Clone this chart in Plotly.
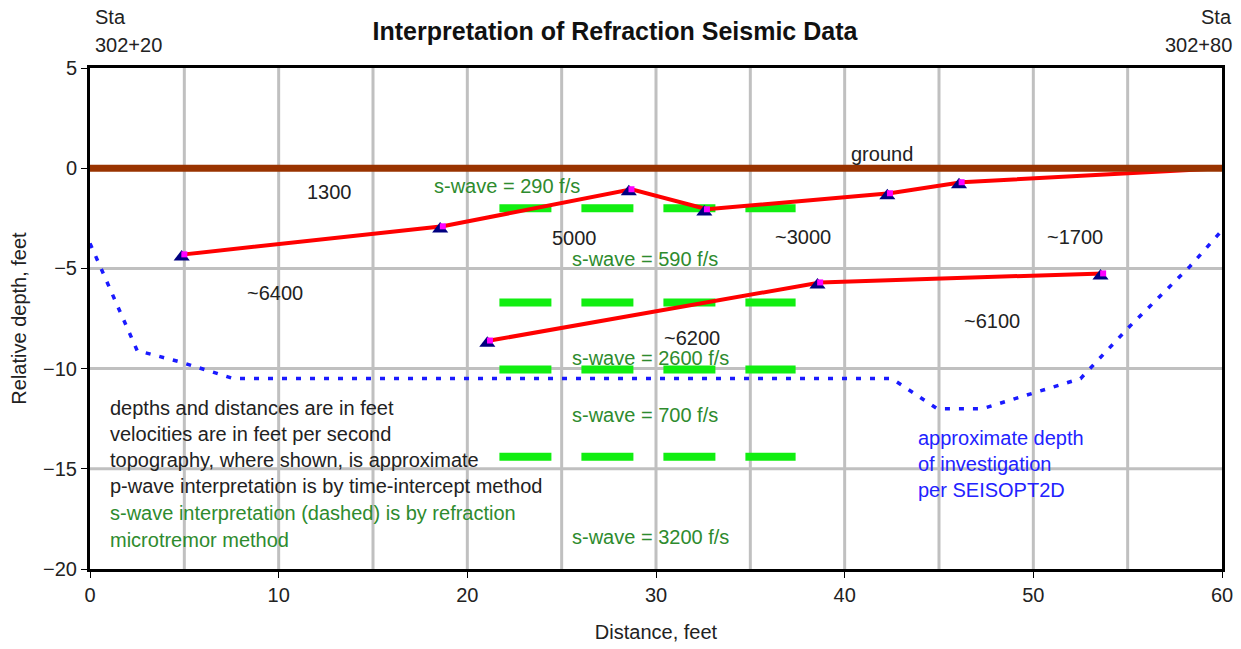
import plotly.graph_objects as go

# ---- data ----
ground_x = [0, 60]
ground_y = [0, 0]

upper_x = [5.0, 18.7, 28.7, 32.7, 42.4, 46.2]
upper_y = [-4.3, -2.9, -1.05, -2.05, -1.25, -0.7]
upper_end_x = [46.2, 60]
upper_end_y = [-0.7, 0.0]

lower_x = [21.2, 38.7, 53.7]
lower_y = [-8.6, -5.7, -5.25]

doi_x = [0, 2.5, 4.9, 7.6, 42.5, 44.9, 47.3, 52.5, 55.1, 58.3, 60]
doi_y = [-3.75, -9.1, -9.7, -10.5, -10.5, -12.0, -12.0, -10.5, -7.9, -4.9, -3.1]

swave_x = [21.7, 37.4]
swave_depths = [-2.0, -6.7, -10.05, -14.4]

velocity_labels = ["1300", "5000", "~3000", "~1700", "~6400", "~6200", "~6100"]
velocity_x = [12.7, 25.7, 37.8, 52.2, 9.8, 31.9, 47.8]
velocity_y = [-1.2, -3.5, -3.45, -3.45, -6.25, -8.45, -7.6]

swave_labels = ["s-wave = 290 f/s", "s-wave = 590 f/s", "s-wave = 2600 f/s",
                "s-wave = 700 f/s", "s-wave = 3200 f/s"]
swave_lx = [22.1, 29.4, 29.7, 29.4, 29.7]
swave_ly = [-0.9, -4.55, -9.45, -12.3, -18.4]

notes_black = ["depths and distances are in feet",
               "velocities are in feet per second",
               "topography, where shown, is approximate",
               "p-wave interpretation is by time-intercept method"]
notes_green = ["s-wave interpretation (dashed) is by refraction",
               "microtremor method"]
notes_y = [-11.95, -13.25, -14.55, -15.85, -17.2, -18.55]

doi_labels = ["approximate depth", "of investigation", "per SEISOPT2D"]
doi_label_y = [-13.45, -14.75, -16.05]

FONT = "Arial, Liberation Sans, sans-serif"
GREEN_TXT = "#2e8b2e"
TXT = "#222222"
FS = 20

W, H = 1241, 649
ML, MR, MT, MB = 90, 19, 68, 80

fig = go.Figure()

# depth of investigation
fig.add_trace(go.Scatter(x=doi_x, y=doi_y, mode="lines",
                         line=dict(color="#1a1aff", width=3.5, dash="5px,9px"),
                         hoverinfo="skip", showlegend=False, cliponaxis=False))

# s-wave dashed layers
for d in swave_depths:
    fig.add_trace(go.Scatter(x=swave_x, y=[d, d], mode="lines",
                             line=dict(color="#11ee11", width=8, dash="52px,30px"),
                             hoverinfo="skip", showlegend=False))

# refractors
fig.add_trace(go.Scatter(x=upper_x + upper_end_x[1:], y=upper_y + upper_end_y[1:], mode="lines",
                         line=dict(color="#ff0000", width=4), showlegend=False))
fig.add_trace(go.Scatter(x=lower_x, y=lower_y, mode="lines",
                         line=dict(color="#ff0000", width=4), showlegend=False))

# ground
fig.add_trace(go.Scatter(x=ground_x, y=ground_y, mode="lines",
                         line=dict(color="#993300", width=7), showlegend=False,
                         cliponaxis=False))

# markers
pts_x = upper_x + lower_x
pts_y = upper_y + lower_y
fig.add_trace(go.Scatter(x=[v - 0.14 for v in pts_x], y=[v - 0.13 for v in pts_y], mode="markers",
                         marker=dict(symbol="triangle-up", size=14, color="#000080"),
                         showlegend=False))
fig.add_trace(go.Scatter(x=pts_x, y=pts_y, mode="markers",
                         marker=dict(symbol="square", size=6, color="#ff00ff"),
                         showlegend=False))

ann = []
for t, x, y in zip(velocity_labels, velocity_x, velocity_y):
    ann.append(dict(x=x, y=y, text=t, showarrow=False, xref="x", yref="y",
                    font=dict(size=FS, color=TXT, family=FONT)))
for t, x, y in zip(swave_labels, swave_lx, swave_ly):
    ann.append(dict(x=x, y=y, text=t, showarrow=False, xref="x", yref="y",
                    font=dict(size=FS, color=GREEN_TXT, family=FONT)))
ann.append(dict(x=42.0, y=0.7, text="ground", showarrow=False,
                font=dict(size=FS, color=TXT, family=FONT)))
for i, t in enumerate(notes_black + notes_green):
    ann.append(dict(x=0.95, y=notes_y[i], text=t, showarrow=False, xanchor="left",
                    font=dict(size=FS, color=TXT if i < 4 else GREEN_TXT, family=FONT)))
for t, y in zip(doi_labels, doi_label_y):
    ann.append(dict(x=43.8, y=y, text=t, showarrow=False, xanchor="left",
                    font=dict(size=FS, color="#2222ff", family=FONT)))

pw = W - ML - MR
ph = H - MT - MB
for txt, xp, yp, anchor in [("Sta", 93, 17, "left"), ("302+20", 93, 45, "left"),
                            ("Sta", 1234, 17, "right"), ("302+80", 1234, 45, "right")]:
    ann.append(dict(x=(xp - ML) / pw, y=(H - MB - yp) / ph, xref="paper", yref="paper",
                    text=txt, showarrow=False, xanchor=anchor, yanchor="middle",
                    font=dict(size=FS, color=TXT, family=FONT)))

fig.update_layout(
    annotations=ann,
    width=W, height=H,
    margin=dict(l=ML, r=MR, t=MT, b=MB, autoexpand=False),
    paper_bgcolor="white", plot_bgcolor="white",
    title=dict(text="<b>Interpretation of Refraction Seismic Data</b>",
               x=615 / W, xanchor="center", y=1 - 31 / H, yanchor="middle",
               font=dict(size=25, color="#111111", family=FONT)),
    font=dict(family=FONT, size=FS, color=TXT),
)

fig.update_xaxes(range=[0, 60], dtick=10, tick0=0, showgrid=False, automargin=False,
                 showline=True, linecolor="black", linewidth=3, mirror=True,
                 ticks="outside", ticklen=6, tickcolor="black",
                 title=dict(text="Distance, feet", standoff=20, font=dict(size=FS)),
                 zeroline=False, tickfont=dict(size=FS))
fig.update_yaxes(range=[-20, 5], dtick=5, showgrid=False, automargin=False,
                 showline=True, linecolor="black", linewidth=3, mirror=True,
                 ticks="outside", ticklen=6, tickcolor="black",
                 title=dict(text="Relative depth, feet", standoff=12, font=dict(size=FS)),
                 zeroline=False, tickfont=dict(size=FS))

# gridlines every 5 ft, drawn below data
shapes = []
for gx in range(5, 60, 5):
    shapes.append(dict(type="line", xref="x", yref="y", x0=gx, x1=gx, y0=-20, y1=5,
                       line=dict(color="#c0c0c0", width=3), layer="below"))
for gy in [-15, -10, -5]:
    shapes.append(dict(type="line", xref="x", yref="y", x0=0, x1=60, y0=gy, y1=gy,
                       line=dict(color="#c0c0c0", width=3), layer="below"))
fig.update_layout(shapes=shapes)

fig.write_html("out.html")
